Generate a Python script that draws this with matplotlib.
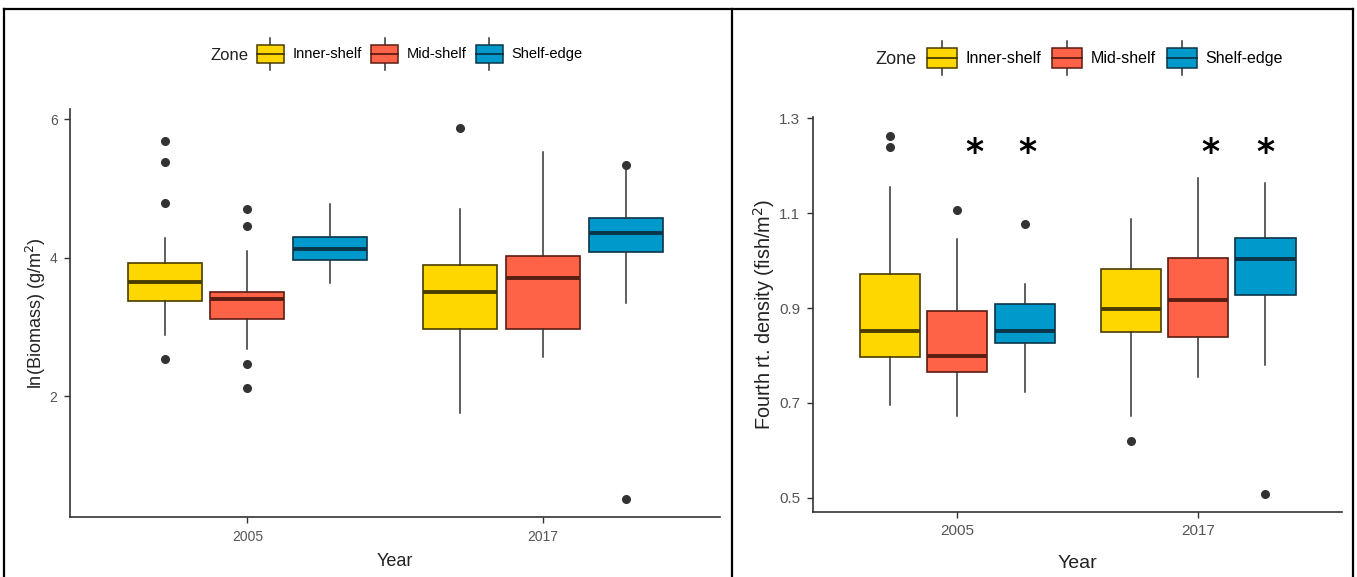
import matplotlib
matplotlib.use('Agg')
import matplotlib.pyplot as plt
from matplotlib.legend_handler import HandlerBase
from matplotlib.patches import Patch, Rectangle
from matplotlib.lines import Line2D

plt.rcParams['font.family'] = ['Liberation Sans', 'DejaVu Sans']

years = ['2005', '2017']
zones = ['Inner-shelf', 'Mid-shelf', 'Shelf-edge']
fills = ['#FFD700', '#FF6347', '#0099CC']
edges = ['#4a3c00', '#5a1d12', '#0b3548']

# ln(Biomass) -- rows are zones, columns are years (2005, 2017)
bio_lo = [[2.89, 1.76], [2.68, 2.57], [3.63, 3.35]]
bio_q1 = [[3.37, 2.97], [3.11, 2.97], [3.96, 4.08]]
bio_med = [[3.65, 3.50], [3.41, 3.70], [4.12, 4.36]]
bio_q3 = [[3.92, 3.89], [3.51, 4.03], [4.30, 4.58]]
bio_hi = [[4.28, 4.70], [4.09, 5.53], [4.77, 5.34]]
bio_out = [[[5.69, 5.38, 4.79, 2.53], [5.88]],
           [[4.70, 4.46, 2.47, 2.12], []],
           [[], [5.34, 0.52]]]

# fourth root density
den_lo = [[0.695, 0.672], [0.672, 0.754], [0.723, 0.780]]
den_q1 = [[0.796, 0.849], [0.766, 0.840], [0.826, 0.927]]
den_med = [[0.852, 0.899], [0.798, 0.917], [0.852, 1.004]]
den_q3 = [[0.972, 0.983], [0.894, 1.005], [0.909, 1.047]]
den_hi = [[1.156, 1.088], [1.045, 1.175], [0.951, 1.163]]
den_out = [[[1.264, 1.240], [0.620]],
           [[1.106], []],
           [[1.077], [0.508]]]

# significance stars (x in category units, y in data units)
star_x = [1.07, 1.29, 2.05, 2.28]
star_y = [1.205, 1.205, 1.205, 1.205]

offsets = [-0.28, 0.0, 0.28]


class BoxKey(HandlerBase):
    # legend key that looks like a little boxplot
    def create_artists(self, legend, orig, xd, yd, w, h, fontsize, trans):
        x0, y0 = -xd, -yd
        fc = orig.get_facecolor()
        ec = orig.get_edgecolor()
        wl = Line2D([x0 + w / 2, x0 + w / 2], [y0, y0 + h], color='#333333', lw=1.1)
        r = Rectangle((x0, y0 + 0.2 * h), w, 0.6 * h, facecolor=fc, edgecolor=ec, lw=1.1)
        m = Line2D([x0, x0 + w], [y0 + h / 2, y0 + h / 2], color=ec, lw=1.3)
        for a in (wl, r, m):
            a.set_transform(trans)
        return [wl, r, m]


def draw_panel(ax, lo, q1, med, q3, hi, out, fsz):
    for z in range(3):
        stats = []
        pos = []
        for y in range(2):
            stats.append({'whislo': lo[z][y], 'q1': q1[z][y], 'med': med[z][y],
                          'q3': q3[z][y], 'whishi': hi[z][y], 'fliers': out[z][y]})
            pos.append(y + 1 + offsets[z])
        ax.bxp(stats, positions=pos, widths=0.25, patch_artist=True,
               showcaps=False,
               boxprops=dict(facecolor=fills[z], edgecolor=edges[z], linewidth=1.2),
               medianprops=dict(color=edges[z], linewidth=2.8, solid_capstyle='butt'),
               whiskerprops=dict(color='#333333', linewidth=1.1),
               flierprops=dict(marker='o', markerfacecolor='#333333',
                               markeredgecolor='#333333', markersize=5.5))
    ax.set_xlim(0.4, 2.6)
    ax.set_xticks([1, 2])
    ax.set_xticklabels(years)
    for s in ['top', 'right']:
        ax.spines[s].set_visible(False)
    for s in ['left', 'bottom']:
        ax.spines[s].set_color('#333333')
        ax.spines[s].set_linewidth(1.2)
    ax.tick_params(colors='#333333', labelcolor='#555555', labelsize=fsz,
                   length=4, width=1.0, pad=5)


fig = plt.figure(figsize=(13.57, 5.77), dpi=100)

ax1 = fig.add_axes([0.0516, 0.1036, 0.4791, 0.7077])
draw_panel(ax1, bio_lo, bio_q1, bio_med, bio_q3, bio_hi, bio_out, 10)
ax1.set_ylim(0.25, 6.15)
ax1.set_yticks([2, 4, 6])
ax1.set_xlabel('Year', fontsize=13, color='#222222', labelpad=7)
ax1.set_ylabel(r'ln(Biomass) (g/m$^2$)', fontsize=13, color='#222222', labelpad=1.5)

ax2 = fig.add_axes([0.5991, 0.1135, 0.3902, 0.6837])
draw_panel(ax2, den_lo, den_q1, den_med, den_q3, den_hi, den_out, 11)
ax2.set_ylim(0.471, 1.303)
ax2.set_yticks([0.5, 0.7, 0.9, 1.1, 1.3])
ax2.set_xlabel('Year', fontsize=14, color='#222222', labelpad=12)
ax2.set_ylabel(r'Fourth rt. density (fish/m$^2$)', fontsize=14.3, color='#222222', labelpad=2)
for sx, sy in zip(star_x, star_y):
    ax2.text(sx, sy, '*', fontsize=25, fontweight='bold', ha='center', va='baseline',
             family='DejaVu Sans', color='black')

# legends: boxplot-style keys, "Zone" title sits to the left
handles = [Patch(facecolor=fills[i], edgecolor=edges[i]) for i in range(3)]
leg1 = fig.legend(handles, zones, loc='center', bbox_to_anchor=(419.7 / 1357, 1 - 54 / 577),
                  ncol=3, frameon=False, fontsize=10.5, handlelength=1.85, handleheight=2.9,
                  handletextpad=0.6, columnspacing=0.64, borderpad=0,
                  handler_map={Patch: BoxKey()})
fig.text(248.3 / 1357, 1 - 55 / 577, 'Zone', fontsize=12, ha='right', va='center', color='#222222')

leg2 = fig.legend(handles, zones, loc='center', bbox_to_anchor=(1104.9 / 1357, 1 - 58 / 577),
                  ncol=3, frameon=False, fontsize=11.5, handlelength=1.87, handleheight=2.85,
                  handletextpad=0.52, columnspacing=0.69, borderpad=0,
                  handler_map={Patch: BoxKey()})
fig.text(917 / 1357, 1 - 59 / 577, 'Zone', fontsize=13, ha='right', va='center', color='#222222')

# panel frames
W, H = 1357.0, 577.0
frame = [((4, 4), (9, 577)), ((732, 732), (9, 577)), ((1353, 1353), (9, 577)), ((4, 1353), (9, 9))]
for xs, ys in frame:
    fig.add_artist(Line2D([x / W for x in xs], [1 - y / H for y in ys],
                          color='black', lw=1.6, transform=fig.transFigure))

fig.savefig('out.png', dpi=100)
